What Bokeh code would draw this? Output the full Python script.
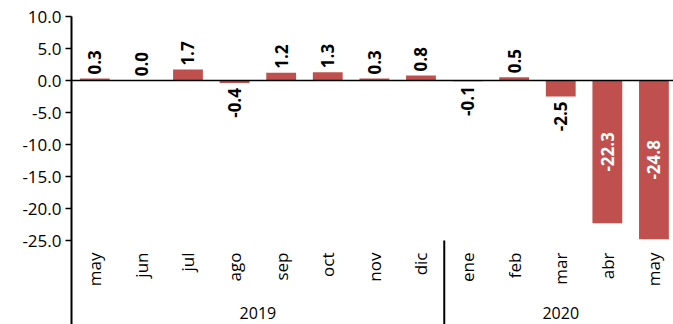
import math
from bokeh.plotting import figure
from bokeh.models import Range1d, FixedTicker, NumeralTickFormatter, Span, ColumnDataSource
from bokeh.core.properties import value
from bokeh.embed import file_html
from bokeh.resources import INLINE

# ---- data ----
months = ["may", "jun", "jul", "ago", "sep", "oct", "nov", "dic",
          "ene", "feb", "mar", "abr", "may"]
values = [0.3, 0.04, 1.7, -0.4, 1.2, 1.3, 0.3, 0.8, -0.1, 0.5, -2.5, -22.3, -24.8]
years = ["2019", "2020"]
year_counts = [8, 5]
y_ticks = [-25, -20, -15, -10, -5, 0, 5, 10]

FONT = "Open Sans"
BAR = "#C0504D"

xs = [i + 0.5 for i in range(len(months))]
labels = ["{:.1f}".format(v) for v in values]

p = figure(width=673, height=324, output_backend="svg", toolbar_location=None,
           x_range=Range1d(0, 12.92), y_range=Range1d(-38.125, 10),
           x_axis_location=None,
           min_border_left=71, min_border_right=0, min_border_top=16, min_border_bottom=0)
p.outline_line_color = None
p.xgrid.visible = False
p.ygrid.visible = False
p.background_fill_color = "white"
p.border_fill_color = "white"

ax = p.yaxis[0]
ax.ticker = FixedTicker(ticks=y_ticks)
ax.formatter = NumeralTickFormatter(format="0.0")
ax.minor_tick_line_color = None
ax.major_tick_in = 0
ax.major_tick_out = 6
ax.major_tick_line_color = "black"
ax.major_tick_line_width = 1.5
ax.axis_line_color = "black"
ax.axis_line_width = 2
ax.major_label_text_font = FONT
ax.major_label_text_font_size = "17px"
ax.major_label_text_color = "black"
ax.major_label_standoff = 4

# bars
p.vbar(x=xs, top=values, bottom=0, width=0.64, fill_color=BAR, line_color=None)

# zero line
p.add_layout(Span(location=0, dimension="width", line_color="black", line_width=1.5))

# value labels
pos = ColumnDataSource(dict(x=[x for x, v in zip(xs, values) if v >= 0],
                            y=[v for v in values if v >= 0],
                            t=[l for l, v in zip(labels, values) if v >= 0]))
neg = ColumnDataSource(dict(x=[x for x, v in zip(xs, values) if -10 <= v < 0],
                            y=[v for v in values if -10 <= v < 0],
                            t=[l for l, v in zip(labels, values) if -10 <= v < 0]))
inside = ColumnDataSource(dict(x=[x for x, v in zip(xs, values) if v < -10],
                               y=[v / 2 for v in values if v < -10],
                               t=[l for l, v in zip(labels, values) if v < -10]))
common = dict(angle=math.pi / 2, text_baseline="middle", text_font=value(FONT),
              text_font_size="17px", text_font_style="bold")
p.text(x="x", y="y", text="t", source=pos, text_align="left", y_offset=-4,
       text_color="black", **common)
p.text(x="x", y="y", text="t", source=neg, text_align="right", y_offset=5,
       text_color="black", **common)
p.text(x="x", y="y", text="t", source=inside, text_align="center",
       text_color="white", **common)

# month labels
p.text(x=xs, y=[-25] * len(xs), text=months, angle=math.pi / 2,
       text_align="right", text_baseline="middle", y_offset=12,
       text_font=value(FONT), text_font_size="17px", text_color="black")

# year labels and separators
start = 0
yx = []
seps = []
for c in year_counts:
    yx.append(start + c / 2)
    start += c
    seps.append(start)
p.text(x=yx, y=[-25] * len(yx), text=years, text_align="center",
       text_baseline="middle", y_offset=72,
       text_font=value(FONT), text_font_size="16px", text_color="black")
p.segment(x0=seps[:-1], y0=[-25] * (len(seps) - 1), x1=seps[:-1],
          y1=[-38.125] * (len(seps) - 1), line_color="black", line_width=2)

open("out.html", "w").write(file_html(p, INLINE))
